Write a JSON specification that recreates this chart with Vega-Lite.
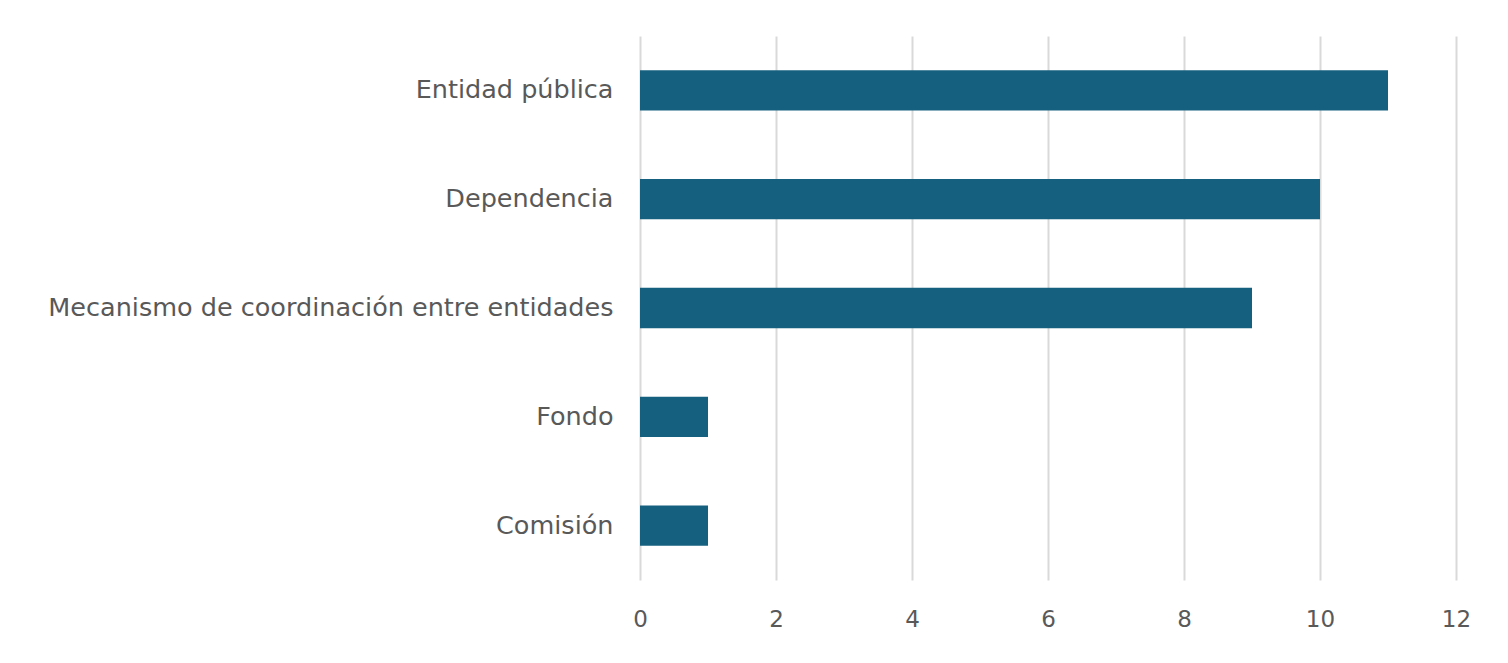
{
  "$schema": "https://vega.github.io/schema/vega-lite/v6.json",
  "autosize": {"type": "none"},
  "width": 816,
  "height": 544,
  "padding": {"left": 640, "top": 36, "right": 52, "bottom": 83},
  "background": "white",
  "data": {
    "values": [
      {"tipo": "Entidad pública", "n": 11},
      {"tipo": "Dependencia", "n": 10},
      {"tipo": "Mecanismo de coordinación entre entidades", "n": 9},
      {"tipo": "Fondo", "n": 1},
      {"tipo": "Comisión", "n": 1}
    ]
  },
  "mark": {"type": "bar", "color": "#16607F"},
  "encoding": {
    "y": {
      "field": "tipo",
      "type": "nominal",
      "sort": null,
      "scale": {"paddingInner": 0.63, "paddingOuter": 0.315},
      "axis": {
        "title": null,
        "domain": false,
        "ticks": false,
        "grid": false,
        "labelFont": "DejaVu Sans",
        "labelFontSize": 25.5,
        "labelColor": "#595959",
        "labelPadding": 27,
        "labelLimit": 0
      }
    },
    "x": {
      "field": "n",
      "type": "quantitative",
      "scale": {"domain": [0, 12], "nice": false},
      "axis": {
        "title": null,
        "values": [0, 2, 4, 6, 8, 10, 12],
        "domain": false,
        "ticks": false,
        "grid": true,
        "gridColor": "#d9d9d9",
        "gridWidth": 2,
        "labelFont": "DejaVu Sans",
        "labelFontSize": 23,
        "labelColor": "#595959",
        "labelPadding": 28,
        "labelAlign": "center",
        "labelFlush": false
      }
    }
  },
  "config": {"view": {"stroke": null}}
}
